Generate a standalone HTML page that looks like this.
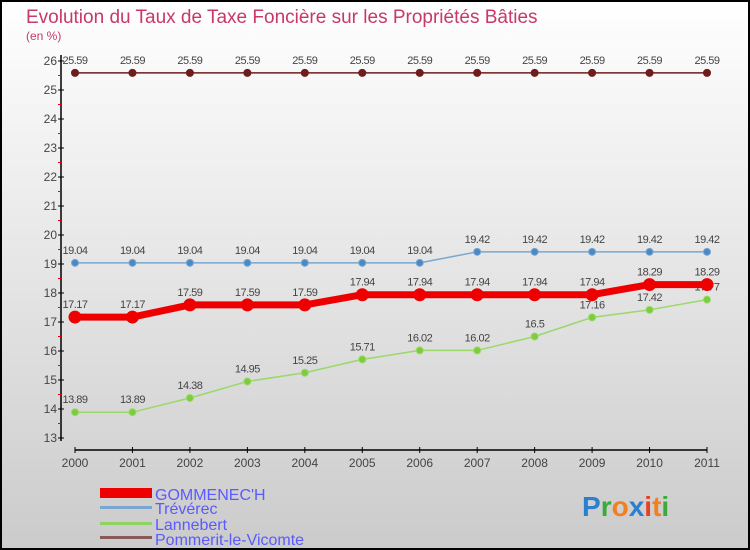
<!DOCTYPE html>
<html><head><meta charset="utf-8"><style>
html,body{margin:0;padding:0}
body{width:750px;height:550px;overflow:hidden;font-family:"Liberation Sans",sans-serif}
svg{display:block}
</style></head><body>
<svg id="chart" width="750" height="550" xmlns="http://www.w3.org/2000/svg">
<defs><linearGradient id="bg" x1="0" y1="0" x2="0" y2="1"><stop offset="0" stop-color="#ffffff"/><stop offset="1" stop-color="#cbcbcb"/></linearGradient></defs>
<rect x="1" y="1" width="748" height="548" fill="url(#bg)" stroke="#000" stroke-width="2"/>
<text x="26" y="23" font-size="19" fill="#c8386a">Evolution du Taux de Taxe Foncière sur les Propriétés Bâties</text>
<text x="26" y="40" font-size="12" fill="#c8386a">(en %)</text>
<g id="axes"></g>
<g id="series"></g>
<g font-size="16">
<rect x="100" y="488" width="52" height="10" fill="#e00"/>
<text x="155" y="500" fill="#5a5aff">GOMMENEC'H</text>
<rect x="100" y="506" width="52" height="3" fill="#7aa7d0"/>
<text x="155" y="514" fill="#5a5aff">Trévérec</text>
<rect x="100" y="522" width="52" height="3" fill="#8fd462"/>
<text x="155" y="530" fill="#5a5aff">Lannebert</text>
<rect x="100" y="536" width="52" height="3" fill="#8a5a5a"/>
<text x="155" y="545" fill="#5a5aff">Pommerit-le-Vicomte</text>
</g>
<g font-size="28" font-weight="bold">
<text x="582" y="516"><tspan fill="#2a7fd0">P</tspan><tspan fill="#3aaa3a">r</tspan><tspan fill="#f08020">o</tspan><tspan fill="#2a7fd0">x</tspan><tspan fill="#e84020">i</tspan><tspan fill="#f08020">t</tspan><tspan fill="#3aaa3a">i</tspan></text>
</g>
</svg>
<script>
const years=[2000,2001,2002,2003,2004,2005,2006,2007,2008,2009,2010,2011];
const yTicks=[13,14,15,16,17,18,19,20,21,22,23,24,25,26];
const pommerit=[25.59,25.59,25.59,25.59,25.59,25.59,25.59,25.59,25.59,25.59,25.59,25.59];
const treverec=[19.04,19.04,19.04,19.04,19.04,19.04,19.04,19.42,19.42,19.42,19.42,19.42];
const gommenech=[17.17,17.17,17.59,17.59,17.59,17.94,17.94,17.94,17.94,17.94,18.29,18.29];
const lannebert=[13.89,13.89,14.38,14.95,15.25,15.71,16.02,16.02,16.5,17.16,17.42,17.77];
const NS="http://www.w3.org/2000/svg";
const X0=75,X1=707,Y13=438,Y26=61;
function xs(i){return X0+i*(X1-X0)/(years.length-1);}
function ys(v){return Y13-(v-13)*(Y13-Y26)/13;}
function mk(tag,attrs,parent){const e=document.createElementNS(NS,tag);for(const k in attrs)e.setAttribute(k,attrs[k]);parent.appendChild(e);return e;}
const axes=document.getElementById('axes');
let l=mk('line',{x1:61,y1:55,x2:61,y2:441,stroke:'#000','stroke-width':1.5},axes);


l=mk('line',{x1:75,y1:450,x2:707,y2:450,stroke:'#000','stroke-width':1.5},axes);


yTicks.forEach((t,i)=>{
  const y=ys(t);
  mk('line',{x1:58,y1:y,x2:64,y2:y,stroke:'#000'},axes);
  if(i<yTicks.length-1) mk('line',{x1:58,y1:ys(t+0.5),x2:61,y2:ys(t+0.5),stroke:'#e00'},axes);
  const tx=mk('text',{x:57,y:y+4,'font-size':12,fill:'#444','text-anchor':'end'},axes);
  tx.textContent=t;
  
  
});
years.forEach((yr,i)=>{
  const x=xs(i);
  mk('line',{x1:x,y1:447,x2:x,y2:453,stroke:'#000'},axes);
  const tx=mk('text',{x:x,y:467,'font-size':12,fill:'#444','text-anchor':'middle'},axes);
  tx.textContent=yr;
  
  
});
const sg=document.getElementById('series');
function draw(name,vals,color,w,r,dot){
  const g=mk('g',{},sg);
  
  
  const pts=vals.map((v,i)=>xs(i)+','+ys(v)).join(' ');
  const pl=mk('polyline',{points:pts,fill:'none',stroke:color,'stroke-width':w,'stroke-linejoin':'round'},g);
  
  
  vals.forEach((v,i)=>{
    const c=mk('circle',{cx:xs(i),cy:ys(v),r:r,fill:dot,stroke:color,'stroke-width':1},g);
    
    
    const t=mk('text',{x:xs(i),y:ys(v)-9,'font-size':11,fill:'#444','text-anchor':'middle','letter-spacing':'-0.5'},g);
    t.textContent=v;
    
    
  });
}
draw('pommerit',pommerit,'#6e1c1c',1.5,3.5,'#6e1c1c');
draw('treverec',treverec,'#7aa7d0',1.5,3.5,'#4a8ac4');
draw('lannebert',lannebert,'#9ad86a',1.5,3.5,'#7ccc3c');
draw('gommenech',gommenech,'#e00',7,6,'#e00');
</script>
</body></html>
